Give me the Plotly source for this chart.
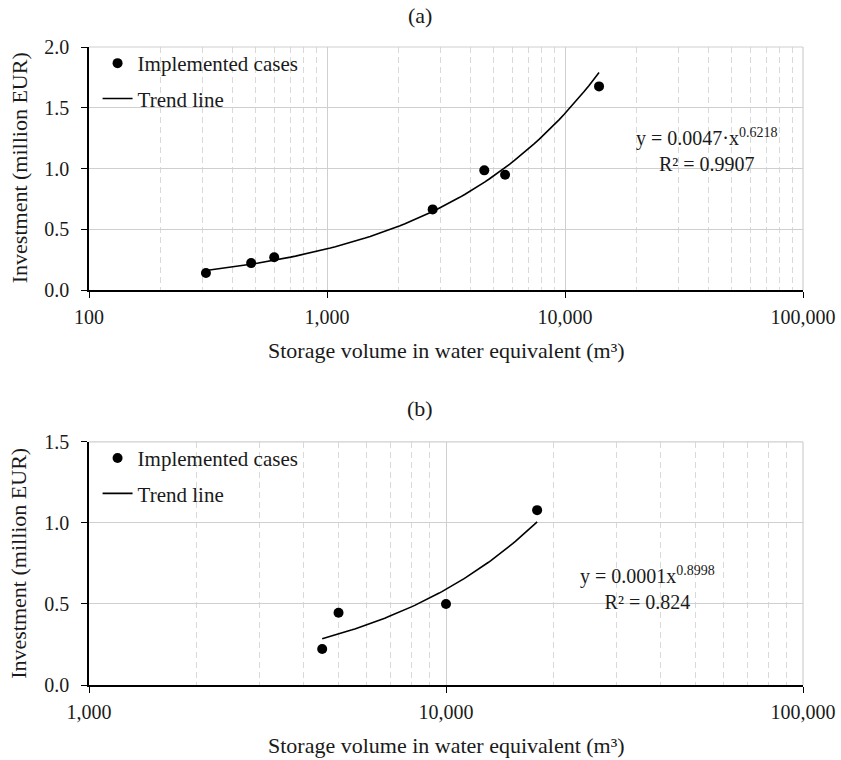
import numpy as np
import plotly.graph_objects as go
from plotly.subplots import make_subplots

# ---- data ----
a_volume = [310, 480, 600, 2780, 4580, 5600, 13900]
a_invest = [0.14, 0.222, 0.27, 0.664, 0.985, 0.949, 1.676]
b_volume = [4500, 5000, 10000, 18000]
b_invest = [0.222, 0.446, 0.5, 1.079]

a_eq = "y = 0.0047·x<sup>0.6218</sup><br>R² = 0.9907"
b_eq = "y = 0.0001x<sup>0.8998</sup><br>R² = 0.824"

a_xticks = [100, 1000, 10000, 100000]
a_xticktext = ["100", "1,000", "10,000", "100,000"]
b_xticks = [1000, 10000, 100000]
b_xticktext = ["1,000", "10,000", "100,000"]
a_yticks = [0.0, 0.5, 1.0, 1.5, 2.0]
b_yticks = [0.0, 0.5, 1.0, 1.5]

FONT = "Liberation Serif, Times New Roman, serif"
TXT = "#1a1a1a"


def power_fit(x, y):
    b, ln_a = np.polyfit(np.log(x), np.log(y), 1)
    xs = np.geomspace(min(x), max(x), 80)
    return xs, np.exp(ln_a) * xs ** b


def minor_vals(lo_dec, hi_dec):
    return [m * 10 ** d for d in range(lo_dec, hi_dec) for m in range(2, 10)]


fig = make_subplots(rows=2, cols=1, vertical_spacing=0.238)

for row, (xv, yv, leg) in enumerate([(a_volume, a_invest, "legend"),
                                      (b_volume, b_invest, "legend2")], start=1):
    fig.add_trace(go.Scatter(x=xv, y=yv, mode="markers", name="Implemented cases",
                             marker=dict(color="black", size=10),
                             legend=leg, legendgroup="p%d" % row), row=row, col=1)
    tx, ty = power_fit(xv, yv)
    fig.add_trace(go.Scatter(x=tx, y=ty, mode="lines", name="Trend line",
                             line=dict(color="black", width=1.6),
                             legend=leg, legendgroup="t%d" % row), row=row, col=1)

axis_common = dict(showline=True, linecolor="black", linewidth=1.6,
                   ticks="outside", tickcolor="black", ticklen=6, tickwidth=1.3,
                   gridcolor="#cfcfcf", gridwidth=1.2, zeroline=False, automargin=False,
                   tickfont=dict(family=FONT, size=20, color=TXT))

fig.update_xaxes(type="log", tickmode="array", **axis_common, ticklabelstandoff=2)
fig.update_yaxes(tickformat=".1f", tickmode="array", **axis_common, ticklabelstandoff=8)

fig.update_xaxes(range=[2, 5], tickvals=a_xticks, ticktext=a_xticktext,
                 minor=dict(tickmode="array", tickvals=minor_vals(2, 5), showgrid=True,
                            gridcolor="#d9d9d9", griddash="6px,4px", gridwidth=1.2, ticks=""),
                 row=1, col=1)
fig.update_xaxes(range=[3, 5], tickvals=b_xticks, ticktext=b_xticktext,
                 minor=dict(tickmode="array", tickvals=minor_vals(3, 5), showgrid=True,
                            gridcolor="#d9d9d9", griddash="6px,4px", gridwidth=1.2, ticks=""),
                 row=2, col=1)
fig.update_yaxes(range=[0, 2.0], tickvals=a_yticks, row=1, col=1)
fig.update_yaxes(range=[0, 1.5], tickvals=b_yticks, row=2, col=1)

fig.update_layout(
    xaxis=dict(domain=[0, 1]), yaxis=dict(domain=[0.619, 1.0]),
    xaxis2=dict(domain=[0, 1]), yaxis2=dict(domain=[0.0, 0.381]),
)

legend_common = dict(font=dict(family=FONT, size=21, color=TXT), bgcolor="rgba(0,0,0,0)",
                     tracegroupgap=5, xanchor="left", yanchor="top", x=0.012)
fig.update_layout(
    legend=dict(**legend_common, y=1.0063),
    legend2=dict(**legend_common, y=0.3873),
)

ann_font = dict(family=FONT, size=22, color=TXT)
xtitle = "Storage volume in water equivalent (m³)"
ytitle = "Investment (million EUR)"


def ann(**kw):
    d = dict(showarrow=False, xanchor="center", yanchor="middle")
    d.update(kw)
    return d


annotations = [
    ann(text="(a)", x=0.4636, y=1.0, yshift=32, xref="paper", yref="paper", font=dict(family=FONT, size=22, color=TXT)),
    ann(text="(b)", x=0.4636, y=0.381, yshift=33, xref="paper", yref="paper", font=dict(family=FONT, size=22, color=TXT)),
    ann(text=xtitle, x=0.5, y=0.619, yshift=-60, xref="paper", yref="paper", font=ann_font),
    ann(text=xtitle, x=0.5, y=0.0, yshift=-60, xref="paper", yref="paper", font=ann_font),
    ann(text=ytitle, x=0, xshift=-70, y=0.81, yshift=0, xref="paper", yref="paper", textangle=-90, font=ann_font),
    ann(text=ytitle, x=0, xshift=-70, y=0.19, yshift=0, xref="paper", yref="paper", textangle=-90, font=ann_font),
    ann(text=a_eq, x=np.log10(39500), y=1.152, xref="x", yref="y", align="center", font=dict(family=FONT, size=20, color=TXT)),
    ann(text=b_eq, x=np.log10(36600), y=0.598, xref="x2", yref="y2", align="center", font=dict(family=FONT, size=20, color=TXT)),
]

fig.update_layout(
    width=841, height=760,
    margin=dict(l=89, r=38, t=47, b=75, autoexpand=False),
    paper_bgcolor="white", plot_bgcolor="white",
    annotations=annotations,
    showlegend=True,
)

# plot-area border (top/right) in grid colour
for xr, yr in [("x domain", "y domain"), ("x2 domain", "y2 domain")]:
    fig.add_shape(type="line", xref=xr, yref=yr, x0=0, x1=1, y0=1, y1=1, line=dict(color="#cfcfcf", width=1.2))
    fig.add_shape(type="line", xref=xr, yref=yr, x0=1, x1=1, y0=0, y1=1, line=dict(color="#cfcfcf", width=1.2))

fig.write_html("out.html", config={"displayModeBar": False},
               post_script="document.body.style.margin='0';")
